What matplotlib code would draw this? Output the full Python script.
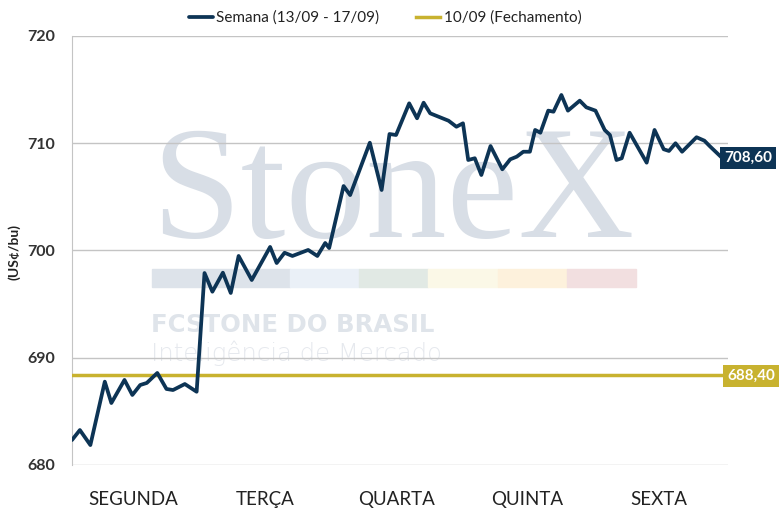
import matplotlib
matplotlib.use("Agg")
import matplotlib.pyplot as plt
from matplotlib.patches import Rectangle

# ---- data ----
days = ["SEGUNDA", "TERÇA", "QUARTA", "QUINTA", "SEXTA"]
x_time = [0.00, 0.06, 0.14, 0.25, 0.30, 0.40, 0.46, 0.52, 0.57, 0.65, 0.72, 0.77, 0.86, 0.95,
          1.01, 1.07, 1.15, 1.21, 1.27, 1.37, 1.51, 1.56, 1.62, 1.68, 1.80, 1.87, 1.93, 1.96,
          2.07, 2.12, 2.27, 2.36, 2.42, 2.47, 2.57, 2.63, 2.68, 2.73, 2.87, 2.93, 2.98,
          3.02, 3.07, 3.12, 3.19, 3.28, 3.34, 3.39, 3.44, 3.49, 3.53, 3.57, 3.63, 3.67, 3.73,
          3.78, 3.87, 3.92, 3.99, 4.06, 4.10, 4.15, 4.19, 4.25, 4.38, 4.44, 4.51, 4.55, 4.60,
          4.65, 4.76, 4.82, 4.86, 4.95, 5.00]
semana = [682.33, 683.26, 681.86, 687.77, 685.78, 687.93, 686.53, 687.46, 687.65, 688.58, 687.09,
          686.99, 687.55, 686.83,
          697.90, 696.16, 697.93, 696.04, 699.49, 697.25, 700.33, 698.83, 699.79, 699.49, 700.05,
          699.49, 700.70, 700.23,
          706.01, 705.17, 710.05, 705.64, 710.86, 710.77, 713.72, 712.33, 713.78, 712.79, 712.10,
          711.54, 711.86,
          708.44, 708.60, 707.04, 709.74, 707.57, 708.50, 708.75, 709.21, 709.21, 711.24, 710.98,
          713.04, 712.94, 714.50, 713.04, 713.97, 713.35, 713.04,
          711.24, 710.77, 708.44, 708.60, 710.98, 708.19, 711.24, 709.44, 709.28, 710.00, 709.21,
          710.56, 710.24, 709.74, 708.69, 708.60]
fechamento = 688.40
last_value = 708.60
yticks = [680, 690, 700, 710, 720]

NAVY = "#0d3455"
GOLD = "#c8b22f"
FONT = ["Lato", "DejaVu Sans"]
plt.rcParams["font.family"] = FONT

W, H = 780, 519
fig = plt.figure(figsize=(7.8, 5.19), dpi=100)
ax = fig.add_axes([72/W, 1-465/H, 656/W, 429/H])

# ---- watermark ----
fig.text(151/W, 1-237/H, "StoneX", fontsize=116,
         family="Liberation Serif", color="#d8dee6", ha="left", va="baseline", zorder=0)
bar_cols = ["#dde3ea", "#eaf0f7", "#e1e9e4", "#fbf8e7", "#fdf1dc", "#f2dfe0"]
bar_edges = [152, 290, 359, 428, 498, 567, 636]
for i, c in enumerate(bar_cols):
    fig.patches.append(Rectangle((bar_edges[i]/W, 1-287/H), (bar_edges[i+1]-bar_edges[i])/W,
                                 18/H, transform=fig.transFigure, color=c, zorder=0))
fig.text(151/W, 1-332/H, "FCSTONE DO BRASIL", fontsize=17.6, weight="bold",
         family="DejaVu Sans", color="#dfe4ea", ha="left", va="baseline", zorder=0)
fig.text(151/W, 1-361/H, "Inteligência de Mercado", fontsize=17.6, weight="light",
         family="DejaVu Sans", color="#e6e9ee",
         ha="left", va="baseline", zorder=0)
ax.set_zorder(1)
ax.patch.set_alpha(0)

# ---- series ----
ax.plot(x_time, semana, color=NAVY, lw=2.7, solid_joinstyle="round", solid_capstyle="round",
        label="Semana (13/09 - 17/09)", zorder=4)
ax.axhline(fechamento, color=GOLD, lw=2.5, label="10/09 (Fechamento)", zorder=3)

ax.set_xlim(0, 5)
ax.set_ylim(680, 720)
ax.set_yticks(yticks)
ax.set_yticklabels([str(v) for v in yticks], fontsize=11.5, color="#333333", weight="bold")
ax.set_xticks([i + 0.47 for i in range(len(days))])
ax.set_xticklabels(days, fontsize=13.5, color="#222222")
ax.tick_params(axis="both", length=0)
ax.tick_params(axis="x", pad=19)
ax.tick_params(axis="y", pad=12)
ax.grid(axis="y", color="#c4c4c4", lw=1)
ax.set_axisbelow(True)
for s in ["top", "right", "bottom"]:
    ax.spines[s].set_visible(False)
ax.spines["left"].set_color("#c4c4c4")

fig.text(14/W, 1-252/H, "(US¢/bu)", rotation=90, fontsize=10, weight="bold",
         color="#222222", ha="center", va="center")

# value labels
ax.annotate(f"{last_value:.2f}".replace(".", ","), xy=(5.0, last_value), xytext=(724, H-158),
            textcoords="figure pixels", fontsize=11, weight="bold", color="white",
            va="center", ha="left", annotation_clip=False, zorder=6,
            bbox=dict(boxstyle="square,pad=0.25", fc=NAVY, ec="none"))
ax.annotate(f"{fechamento:.2f}".replace(".", ","), xy=(5.0, fechamento), xytext=(727, H-376),
            textcoords="figure pixels", fontsize=11, weight="bold", color="white",
            va="center", ha="left", annotation_clip=False, zorder=6,
            bbox=dict(boxstyle="square,pad=0.25", fc=GOLD, ec="none"))

leg = fig.legend(loc="center", bbox_to_anchor=(385/W, 1-18/H), ncol=2, frameon=False,
                 fontsize=11, handlelength=1.6, handletextpad=0.2, columnspacing=2.4)
for t in leg.get_texts():
    t.set_color("#222222")

fig.savefig("out.png", dpi=100)
